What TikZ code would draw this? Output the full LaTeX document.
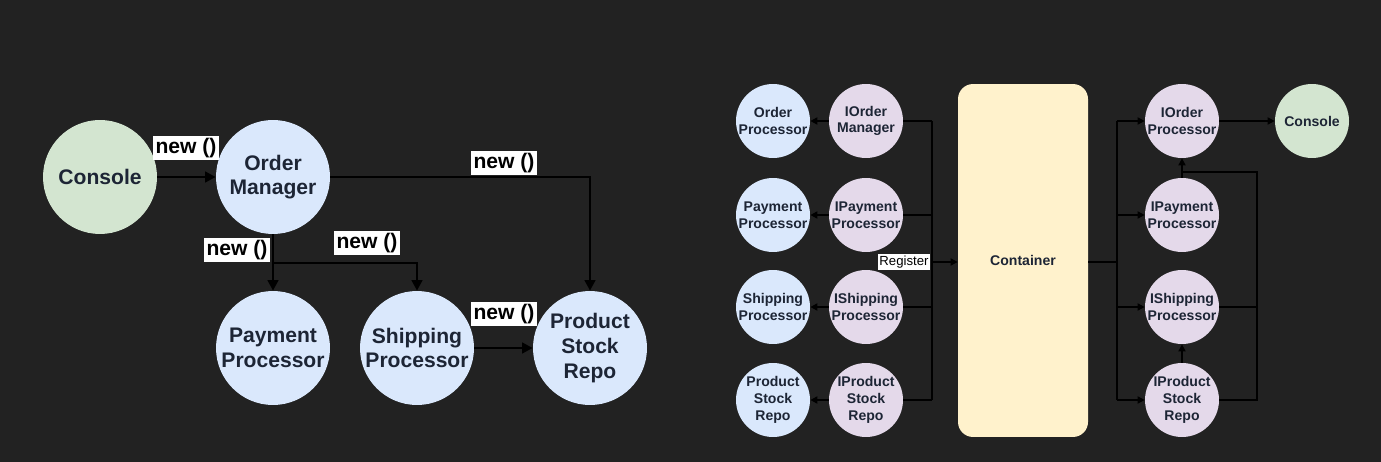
\documentclass[tikz,border=0pt]{standalone}
\usepackage{fontspec}
\setmainfont{Liberation Sans}
\usepackage{tikz}
\usetikzlibrary{arrows.meta, positioning, calc}

\definecolor{bgdark}{HTML}{222222}
\definecolor{clsblue}{HTML}{DAE8FC}
\definecolor{ifcpurple}{HTML}{E4D9EA}
\definecolor{appgreen}{HTML}{D3E5D0}
\definecolor{boxyellow}{HTML}{FFF2CC}
\definecolor{inkdark}{HTML}{1D2535}

\begin{document}
\begin{tikzpicture}[
        x=0.02cm, y=-0.02cm,
        bigcirc/.style={circle, minimum size=2.28cm, inner sep=0pt, align=center, text=inkdark, font=\bfseries\fontsize{12}{14}\selectfont},
        smallcirc/.style={circle, minimum size=1.48cm, inner sep=0pt, align=center, text=inkdark, font=\bfseries\fontsize{8}{9.5}\selectfont},
        cls/.style={fill=clsblue},
        ifc/.style={fill=ifcpurple},
        app/.style={fill=appgreen},
        newlbl/.style={fill=white, text=black, inner sep=1.2pt, font=\bfseries\fontsize{12}{14}\selectfont},
        reglbl/.style={fill=white, text=black, inner sep=1pt, font=\fontsize{7.5}{9}\selectfont},
        arrow/.style={-{Triangle[length=6pt, width=6pt]}, line width=1.6pt, black},
        thinarrow/.style={-{Triangle[length=4pt, width=4pt]}, line width=1.1pt, black},
        line/.style={line width=1.1pt, black}
    ]
    
    % Background
    \fill[bgdark] (0,0) rectangle (1381,462);
    
    % Left: classes newing each other
    \node[bigcirc, app] (console) at (100,177) {Console};
    \node[bigcirc, cls] (omgr) at (273,177) {Order\\Manager};
    \node[bigcirc, cls] (pay) at (273,348) {Payment\\Processor};
    \node[bigcirc, cls] (ship) at (417,348) {Shipping\\Processor};
    \node[bigcirc, cls] (prod) at (590,348) {Product\\Stock\\Repo};
    \coordinate (split) at (273,263);
    
    \draw[arrow] (console) -- (omgr);
    \draw[arrow] (omgr.east) -| (prod.north);
    \draw[arrow] (omgr) -- (pay);
    \draw[arrow] (split) -| (ship.north);
    \draw[arrow] (ship) -- (prod);
    
    % new () labels
    \node[newlbl] (newa) at (186,148) {new ()};
    \node[newlbl] (newb) at (504,163) {new ()};
    \node[newlbl] (newc) at (237,250) {new ()};
    \node[newlbl] (newd) at (367,243) {new ()};
    \node[newlbl] (newe) at (504,314) {new ()};
    
    % Right: classes and interfaces
    \node[smallcirc, cls] (ordp) at (773,121) {Order\\Processor};
    \node[smallcirc, cls] (payp) at (773,215) {Payment\\Processor};
    \node[smallcirc, cls] (shipp) at (773,307) {Shipping\\Processor};
    \node[smallcirc, cls] (prodr) at (773,400) {Product\\Stock\\Repo};
    \node[smallcirc, ifc] (iordm) at (866,121) {IOrder\\Manager};
    \node[smallcirc, ifc] (ipayp) at (866,215) {IPayment\\Processor};
    \node[smallcirc, ifc] (iship) at (866,307) {IShipping\\Processor};
    \node[smallcirc, ifc] (iprod) at (866,400) {IProduct\\Stock\\Repo};
    
    \foreach \i/\c in {iordm/ordp, ipayp/payp, iship/shipp, iprod/prodr}
        \draw[thinarrow] (\i) -- (\c);
    
    % Container
    \node[draw=none, fill=boxyellow, rounded corners=0.3cm, minimum width=2.6cm, minimum height=7.06cm, text=inkdark, font=\bfseries\fontsize{8}{9.5}\selectfont] (cont) at (1023,260.5) {Container};
    
    % Register bus
    \coordinate (regtop) at (932,121);
    \coordinate (regbot) at (932,400);
    \coordinate (reg) at (932,262);
    \draw[line] (regtop) -- (regbot);
    \foreach \i in {iordm, ipayp, iship, iprod}
        \draw[line] (\i.east) -- (\i.east -| reg);
    \draw[thinarrow] (reg) -- (cont.west |- reg);
    \node[reglbl] (register) at (904,262) {Register};
    
    % Resolved interfaces
    \node[smallcirc, ifc] (riord) at (1182,121) {IOrder\\Processor};
    \node[smallcirc, ifc] (ripay) at (1182,215) {IPayment\\Processor};
    \node[smallcirc, ifc] (riship) at (1182,307) {IShipping\\Processor};
    \node[smallcirc, ifc] (riprod) at (1182,400) {IProduct\\Stock\\Repo};
    \node[smallcirc, app] (console2) at (1312,121) {Console};
    
    \coordinate (resolve) at (1117,262);
    \coordinate (restop) at (1117,121);
    \coordinate (resbot) at (1117,400);
    \draw[line] (cont.east |- resolve) -- (resolve);
    \draw[line] (restop) -- (resbot);
    \foreach \r in {riord, ripay, riship, riprod}
        \draw[thinarrow] (\r.west -| resolve) -- (\r.west);
    
    \draw[thinarrow] (riord) -- (console2);
    \draw[thinarrow] (ripay) -- (riord);
    \draw[thinarrow] (riprod) -- (riship);
    
    % Dependencies back to IOrder Processor
    \coordinate (deps) at (1257,172);
    \draw[line] (riprod.east) -| (deps) -- (deps -| riord.south);
    \draw[line] (riship.east) -- (riship.east -| deps);
    
\end{tikzpicture}
\end{document}
